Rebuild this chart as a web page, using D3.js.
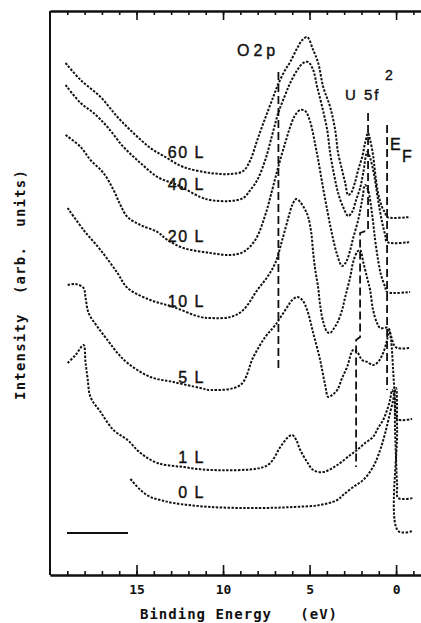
<!DOCTYPE html>
<html>
<head>
<meta charset="utf-8">
<script src="https://cdn.jsdelivr.net/npm/d3@7"></script>
<style>
  body { margin: 0; background: #fff; }
</style>
</head>
<body>
<svg id="chart" width="421" height="623"></svg>
<script>
// photoemission spectra, [binding energy (eV), intensity (arb. units)]
const s60L = [[19.10,512],[18.23,495],[17.08,478],[16.10,458],[15.18,442],[14.20,427],[13.33,418],[12.29,408],[10.73,402],[9.58,401],[8.83,404],[8.42,415],[8.02,435],[7.56,457],[7.10,478],[6.81,491],[6.41,505],[6.12,513],[5.71,527],[5.42,535],[5.14,538],[4.79,525],[4.50,512],[4.21,488],[3.81,468],[3.52,445],[3.35,422],[3.12,405],[2.94,392],[2.77,380],[2.60,382],[2.37,393],[2.19,405],[1.96,418],[1.79,432],[1.62,442],[1.50,435],[1.33,420],[1.21,402],[1.04,382],[0.81,368],[0.63,362],[0.52,358],[-0.81,358]];
const s40L = [[19.10,490],[18.23,472],[17.48,462],[16.68,448],[15.75,428],[14.77,412],[13.79,398],[12.64,390],[11.31,378],[10.73,375],[9.58,374],[8.83,377],[8.42,385],[8.02,395],[7.56,415],[7.16,440],[6.81,462],[6.41,480],[6.12,492],[5.71,505],[5.37,512],[5.08,513],[4.79,505],[4.56,488],[4.27,468],[3.98,445],[3.81,422],[3.58,400],[3.35,382],[3.06,368],[2.77,359],[2.54,363],[2.31,375],[2.08,387],[1.90,402],[1.67,423],[1.50,417],[1.27,400],[1.04,375],[0.81,353],[0.63,340],[0.52,333],[-0.81,333]];
const s20L = [[19.10,440],[18.23,428],[17.66,415],[16.91,402],[16.33,385],[15.93,370],[15.52,358],[14.77,350],[13.79,343],[13.21,335],[12.29,327],[10.73,322],[9.58,320],[8.83,323],[8.14,335],[7.56,360],[7.16,385],[6.81,408],[6.41,432],[6.12,448],[5.83,460],[5.54,465],[5.25,464],[4.96,453],[4.67,430],[4.50,415],[4.27,392],[3.98,365],[3.69,340],[3.40,320],[3.12,309],[2.89,313],[2.65,325],[2.48,337],[2.19,355],[1.96,375],[1.79,390],[1.62,385],[1.38,360],[1.21,335],[1.04,315],[0.87,300],[0.63,288],[0.52,283],[-0.81,283]];
const s10L = [[18.98,367],[18.06,345],[17.08,325],[16.10,302],[15.52,287],[14.20,275],[12.87,268],[11.31,258],[10.73,257],[9.58,258],[8.83,265],[8.02,285],[7.44,298],[6.98,312],[6.58,335],[6.23,357],[6.00,370],[5.77,376],[5.54,373],[5.25,365],[5.08,358],[4.90,342],[4.79,322],[4.67,305],[4.50,287],[4.39,270],[4.21,253],[3.98,243],[3.81,242],[3.58,247],[3.40,252],[3.12,265],[2.94,278],[2.65,298],[2.48,313],[2.25,323],[2.08,325],[1.90,313],[1.67,297],[1.50,285],[1.33,265],[1.10,252],[0.92,247],[0.46,247],[0.29,239],[0.12,230],[-0.06,227],[-0.81,227]];
const s5L = [[18.98,290],[18.52,291],[18.06,287],[17.95,278],[17.77,262],[17.25,248],[16.68,235],[16.10,222],[15.52,212],[14.20,198],[12.87,193],[11.31,187],[10.73,185],[9.00,190],[8.25,218],[7.56,238],[6.98,250],[6.29,268],[6.00,275],[5.71,278],[5.42,275],[5.14,265],[4.79,242],[4.39,215],[4.10,190],[3.92,178],[3.69,180],[3.40,185],[3.12,197],[2.83,208],[2.48,225],[2.25,223],[1.96,215],[1.67,213],[1.33,210],[1.04,213],[0.75,222],[0.52,235],[0.40,245],[0.29,235],[0.17,205],[0.06,175],[-0.06,156],[-0.92,156]];
const s1L = [[18.98,212],[18.52,220],[18.06,230],[17.95,213],[17.83,197],[17.66,178],[17.08,163],[16.33,145],[15.52,135],[14.77,122],[13.79,112],[12.29,108],[10.73,105],[7.85,107],[7.27,112],[6.69,128],[6.29,137],[6.00,140],[5.77,135],[5.54,125],[5.14,113],[4.79,105],[4.21,103],[3.40,110],[2.65,120],[2.25,125],[1.79,132],[1.33,138],[1.04,147],[0.75,155],[0.52,165],[0.35,175],[0.23,185],[0.12,180],[0.06,145],[0.00,115],[-0.06,90],[-0.12,77],[-0.98,77]];
const s0L = [[15.35,96],[14.77,85],[14.20,78],[13.62,75],[12.87,72],[10.73,68],[7.85,67],[5.94,68],[4.39,70],[3.40,75],[3.06,80],[2.48,88],[1.90,95],[1.33,108],[0.92,125],[0.63,142],[0.35,162],[0.17,175],[0.06,185],[0.00,187],[-0.06,145],[-0.12,44],[-0.98,44]];

const spectra = [s60L, s40L, s20L, s10L, s5L, s1L, s0L];
const exposures = ["60 L", "40 L", "20 L", "10 L", "5 L", "1 L", "0 L"];

// marker lines (eV, intensity)
const o2pLine = [[6.80,503],[6.80,207]];
const u5fLine = [[1.62,462],[1.62,345],[2.08,342],[2.08,238],[2.31,235],[2.31,108]];
const efLine = [[0.52,450],[0.52,185]];

const minorTicks = [-1,0,1,2,3,4,5,6,7,8,9,10,11,12,13,14,15,16,17,18,19];
const majorTicks = [15,10,5,0];

let chartAttr = {
  "left": 50,
  "right": 421,
  "top": 11,
  "bottom": 575
};
let textColor = "#111";
let monoFont = "'DejaVu Sans Mono', 'Liberation Mono', monospace";
let sansFont = "'Liberation Sans', Arial, sans-serif";

let svg = d3.select("#chart");

let xScale = d3.scaleLinear()
  .domain([20, -1.44])
  .range([chartAttr.left, chartAttr.right]);

let yScale = d3.scaleLinear()
  .domain([0, 564])
  .range([chartAttr.bottom, chartAttr.top]);

let line = d3.line()
  .x(d => xScale(d[0]))
  .y(d => yScale(d[1]))
  .curve(d3.curveCatmullRom.alpha(0.5));

let straight = d3.line()
  .x(d => xScale(d[0]))
  .y(d => yScale(d[1]));

// spectra
svg.selectAll(".spectrum")
  .data(spectra)
  .enter()
  .append("path")
    .attr("class", "spectrum")
    .attr("d", d => line(d))
    .style("fill", "none")
    .style("stroke", textColor)
    .style("stroke-width", 2)
    .style("stroke-dasharray", "2.4,1.5");

// dashed marker lines
[o2pLine, u5fLine, efLine].forEach(function(m) {
  svg.append("path")
    .attr("d", straight(m))
    .style("fill", "none")
    .style("stroke", textColor)
    .style("stroke-width", 1.8)
    .style("stroke-dasharray", "8,4");
});

// axes
function styleAxis(g) {
  g.select(".domain").style("stroke", textColor).style("stroke-width", 2);
  g.selectAll(".tick line").style("stroke", textColor).style("stroke-width", 1.6);
}

svg.append("g")
  .attr("transform", "translate(0," + chartAttr.bottom + ")")
  .call(d3.axisBottom(xScale).tickValues(minorTicks).tickSize(-4).tickSizeOuter(0).tickFormat(""))
  .call(styleAxis);
svg.append("g")
  .attr("transform", "translate(0," + chartAttr.bottom + ")")
  .call(d3.axisBottom(xScale).tickValues(majorTicks).tickSize(-10).tickSizeOuter(0).tickPadding(10).tickFormat(d3.format("d")))
  .call(styleAxis)
  .call(g => g.selectAll("text")
    .style("font-family", monoFont)
    .style("font-weight", "bold")
    .style("font-size", "13px")
    .style("fill", textColor));

svg.append("g")
  .attr("transform", "translate(0," + chartAttr.top + ")")
  .call(d3.axisTop(xScale).tickValues(minorTicks).tickSize(-4).tickSizeOuter(0).tickFormat(""))
  .call(styleAxis);
svg.append("g")
  .attr("transform", "translate(0," + chartAttr.top + ")")
  .call(d3.axisTop(xScale).tickValues(majorTicks).tickSize(-9).tickSizeOuter(0).tickFormat(""))
  .call(styleAxis);

svg.append("line")
  .attr("x1", chartAttr.left)
  .attr("x2", chartAttr.left)
  .attr("y1", chartAttr.top)
  .attr("y2", chartAttr.bottom)
  .style("stroke", textColor)
  .style("stroke-width", 2);

// scale bar
svg.append("line")
  .attr("x1", 67)
  .attr("x2", 128)
  .attr("y1", 533)
  .attr("y2", 533)
  .style("stroke", textColor)
  .style("stroke-width", 2);

// axis titles
svg.append("text")
  .attr("x", 140)
  .attr("y", 619)
  .text("Binding Energy   (eV)")
  .style("font-family", monoFont)
  .style("font-weight", "bold")
  .style("font-size", "14px")
  .style("letter-spacing", "1px")
  .style("white-space", "pre")
  .style("fill", textColor);

svg.append("text")
  .attr("transform", "translate(25,400) rotate(-90)")
  .text("Intensity  (arb.  units)")
  .style("font-family", monoFont)
  .style("font-weight", "bold")
  .style("font-size", "14px")
  .style("letter-spacing", "1.2px")
  .style("white-space", "pre")
  .style("fill", textColor);

// exposure labels
let labelY = [158, 190, 242, 307, 383, 463, 498];
svg.selectAll(".expLabel")
  .data(exposures)
  .enter()
  .append("text")
    .attr("class", "expLabel")
    .attr("x", 205)
    .attr("y", (d, i) => labelY[i])
    .text(d => d)
    .style("font-family", sansFont)
    .style("font-size", "16px")
    .style("letter-spacing", "1.5px")
    .style("text-anchor", "end")
    .style("stroke", textColor)
    .style("stroke-width", 0.4)
    .style("fill", textColor);

// peak labels
function peakLabel(x, y, txt, size, spacing) {
  svg.append("text")
    .attr("x", x)
    .attr("y", y)
    .text(txt)
    .style("font-family", sansFont)
    .style("font-size", size + "px")
    .style("letter-spacing", spacing + "px")
    .style("white-space", "pre")
    .style("stroke", textColor)
    .style("stroke-width", 0.4)
    .style("fill", textColor);
}
peakLabel(237, 56, "O2p", 16, 4);
peakLabel(345, 100, "U 5f", 15, 2);
peakLabel(385, 80, "2", 14, 0);
peakLabel(390, 150, "E", 16, 0);
peakLabel(402, 162, "F", 16, 0);
</script>
</body>
</html>
